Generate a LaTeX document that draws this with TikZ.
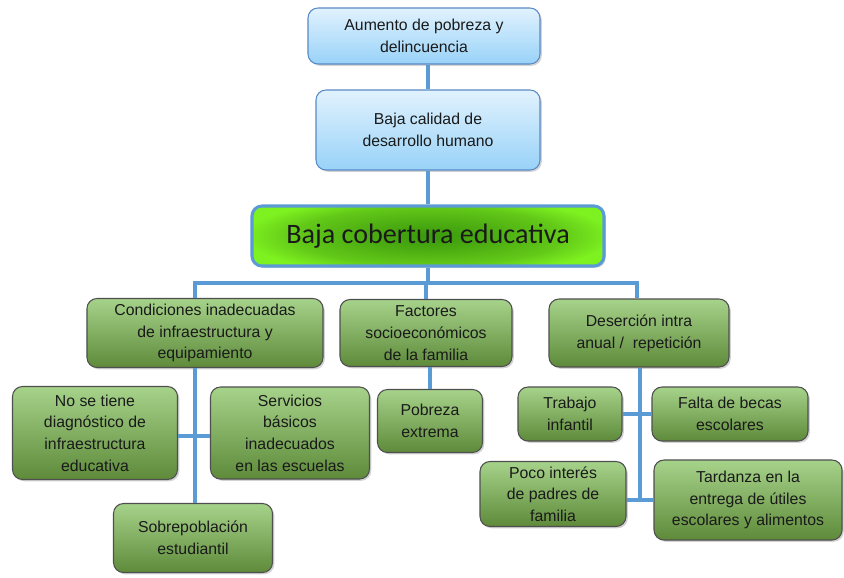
\documentclass[tikz,border=0pt]{standalone}
\usepackage{fontspec}
\setmainfont{Liberation Sans}
\newfontfamily\calibri{Carlito}
\usetikzlibrary{shadows}
\definecolor{bluetop}{HTML}{E1F2FE}
\definecolor{bluebot}{HTML}{98D2F8}
\definecolor{blueedge}{HTML}{5A8AC6}
\definecolor{greentop}{HTML}{A6D38A}
\definecolor{greenbot}{HTML}{5E8A3A}
\definecolor{greenedge}{HTML}{4F4F4F}
\definecolor{mainin}{HTML}{3A980C}
\definecolor{mainmid}{HTML}{4DAE12}
\definecolor{mainmid2}{HTML}{62C818}
\definecolor{mainout}{HTML}{7EF220}
\definecolor{linkc}{HTML}{5B9BD5}
\definecolor{txt}{HTML}{1A1A1A}
\pgfdeclareradialshading{mainshade}{\pgfpoint{0bp}{0bp}}{color(0bp)=(mainin); color(9bp)=(mainmid); color(18bp)=(mainmid2); color(25bp)=(mainout); color(50bp)=(mainout)}
\tikzset{
  basebox/.style={rounded corners=0.3cm, align=center, text=txt, font=\fontsize{13.5}{18.5}\selectfont,
    inner sep=2pt, drop shadow={shadow xshift=1.5pt, shadow yshift=-1.5pt, opacity=0.35}},
  bluebox/.style={basebox, draw=blueedge, line width=0.9pt, top color=bluetop, bottom color=bluebot},
  greenbox/.style={basebox, draw=greenedge, line width=0.9pt, top color=greentop, bottom color=greenbot},
  mainbox/.style={basebox, draw=linkc, line width=2.6pt, fill=mainout,
    path picture={\shade[shading=mainshade] (path picture bounding box.center) ellipse (185 and 40);},
    font=\calibri\fontsize{24}{28}\selectfont},
  link/.style={draw=linkc, line width=3.2pt}
}
\begin{document}
\begin{tikzpicture}[x=0.03cm, y=-0.03cm]
\useasboundingbox (0,0) rectangle (844,577);
\fill[white] (0,0) rectangle (844,577);
\coordinate (bl) at (195,283);
\coordinate (br) at (637,283);
\coordinate (dv) at (640,0);
\coordinate (sv) at (0,436);
\node[bluebox, minimum width=6.96cm, minimum height=1.68cm] (top) at (424,36) {Aumento de pobreza y\\delincuencia};
\node[bluebox, minimum width=6.72cm, minimum height=2.4cm] (hum) at (428,130) {Baja calidad de\\desarrollo humano};
\node[mainbox, minimum width=10.56cm, minimum height=1.8cm] (main) at (428,236) {Baja cobertura educativa};
\node[greenbox, minimum width=7.08cm, minimum height=2.07cm] (cond) at (205,333) {Condiciones inadecuadas\\de infraestructura y\\equipamiento};
\node[greenbox, minimum width=5.16cm, minimum height=2.01cm] (fact) at (426,333) {Factores\\socioeconómicos\\de la familia};
\node[greenbox, minimum width=5.4cm, minimum height=2.04cm] (des) at (639,333) {Deserción intra\\anual /\ \ repetición};
\node[greenbox, minimum width=3.15cm, minimum height=1.89cm] (pob) at (430,421) {Pobreza\\extrema};
\node[greenbox, minimum width=4.95cm, minimum height=2.79cm] (nose) at (95,433) {No se tiene\\diagnóstico de\\infraestructura\\educativa};
\node[greenbox, minimum width=4.77cm, minimum height=2.76cm] (serv) at (290,433) {Servicios\\básicos\\inadecuados\\en las escuelas};
\node[greenbox, minimum width=4.77cm, minimum height=2.07cm] (sobre) at (193,538) {Sobrepoblación\\estudiantil};
\node[greenbox, minimum width=3.12cm, minimum height=1.62cm] (trab) at (570,414) {Trabajo\\infantil};
\node[greenbox, minimum width=4.68cm, minimum height=1.62cm] (falta) at (730,414) {Falta de becas\\escolares};
\node[greenbox, minimum width=4.38cm, minimum height=1.95cm] (poco) at (553,494) {Poco interés\\de padres de\\familia};
\node[greenbox, minimum width=5.64cm, minimum height=2.4cm] (tard) at (748,500) {Tardanza en la\\entrega de útiles\\escolares y alimentos};
% connectors
\draw[link] (hum.north) -- (hum.north |- top.south);
\draw[link] (main.north) -- (main.north |- hum.south);
\draw[link] (main.south) -- (main.south |- bl);
\draw[link] (bl |- cond.north) -- (bl) -- (br) -- (br |- des.north);
\draw[link] (fact.north) -- (fact.north |- bl);
\draw[link] (bl |- cond.south) -- (bl |- sobre.north);
\draw[link] (nose.east |- sv) -- (serv.west |- sv);
\draw[link] (fact.south -| pob.north) -- (pob.north);
\draw[link] (dv |- des.south) -- (dv |- tard.west);
\draw[link] (trab.east) -- (falta.west);
\draw[link] (poco.east |- tard.west) -- (tard.west);
\end{tikzpicture}
\end{document}
